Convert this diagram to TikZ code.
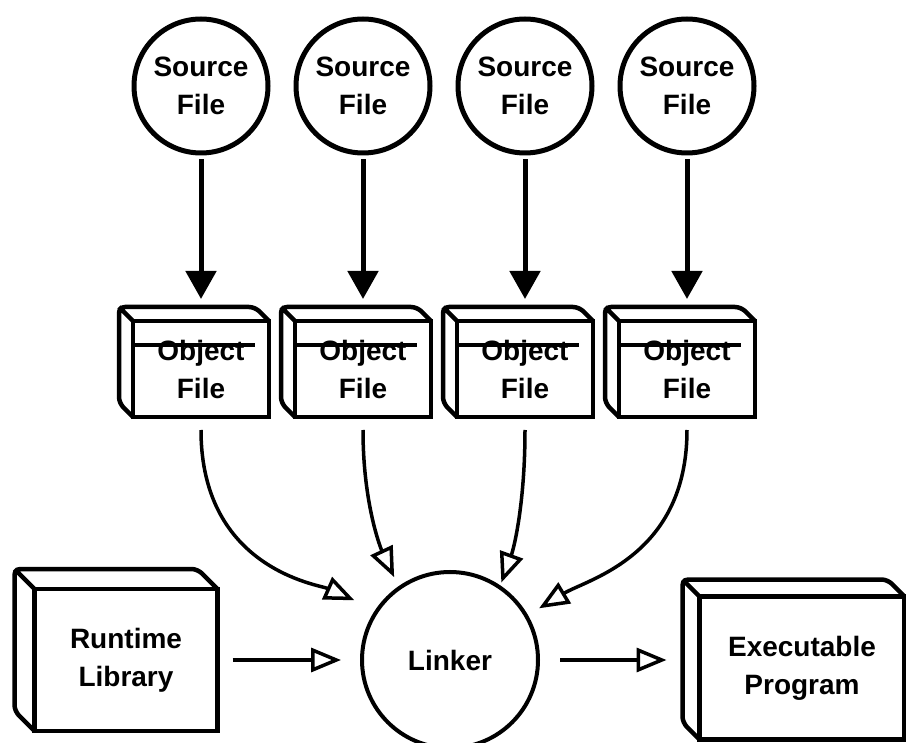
\documentclass[tikz,border=0pt]{standalone}
\usepackage{fontspec}
\setmainfont{Liberation Sans}
\usetikzlibrary{arrows.meta}

\begin{document}
\begin{tikzpicture}[x=1pt,y=1pt,node distance=162pt,
                    font=\bfseries\fontsize{28}{38}\selectfont,
                    src node/.style={circle,draw,line width=5pt,minimum size=134pt,inner sep=0pt,align=center},
                    file node/.style={rectangle,draw,line width=4.5pt,outer sep=0pt,align=center},
                    obj node/.style={file node,minimum width=136pt,minimum height=96pt},
                    link node/.style={circle,draw,line width=4pt,minimum size=176pt,inner sep=0pt},
                    feed/.style={line width=5pt,-{Triangle[length=28pt,width=30pt]},shorten <=4pt,shorten >=22pt},
                    link edge/.style={line width=3.5pt,-{Triangle[open,length=30pt,width=24pt]}}]
    \useasboundingbox (0,0) rectangle (906,-743);
    \node[src node] (src1) at (201,-86) {Source\\File};
    \node[src node] (src2) [right of=src1] {Source\\File};
    \node[src node] (src3) [right of=src2] {Source\\File};
    \node[src node] (src4) [right of=src3] {Source\\File};
    \node[obj node] (obj1) [below of=src1,node distance=283pt] {Object\\File};
    \node[obj node] (obj2) [below of=src2,node distance=283pt] {Object\\File};
    \node[obj node] (obj3) [below of=src3,node distance=283pt] {Object\\File};
    \node[obj node] (obj4) [below of=src4,node distance=283pt] {Object\\File};
    \node[link node] (linker) at (450,-660) {Linker};
    \node[file node,minimum width=183pt,minimum height=142pt] (lib) [left of=linker,node distance=324pt] {Runtime\\Library};
    \node[file node,minimum width=205pt,minimum height=143pt] (exe) [right of=linker,node distance=352pt,yshift=-8pt] {Executable\\Program};
    % back edges of the boxes
    \foreach \b/\d in {obj1/14,obj2/14,obj3/14,obj4/14,lib/20,exe/17}
        \draw[line width=4.5pt,rounded corners=6pt]
            (\b.north east) -- ([shift={(-\d,\d)}]\b.north east) -- ([shift={(-\d,\d)}]\b.north west)
            -- ([shift={(-\d,\d)}]\b.south west) -- (\b.south west)
            ([shift={(-\d,\d)}]\b.north west) -- (\b.north west);
    \foreach \b in {obj1,obj2,obj3,obj4}
        \draw[line width=4pt] ([shift={(-2,-24)}]\b.north west) -- ([shift={(-14,-24)}]\b.north east);
    \path[feed]
        (src1) edge (obj1)
        (src2) edge (obj2)
        (src3) edge (obj3)
        (src4) edge (obj4);
    \path[link edge,shorten <=13pt]
        (obj1.south) edge [out=-90,in=156,out looseness=1.5,in looseness=0.6,shorten >=23pt] (linker.146)
        (obj2.south) edge [out=-90,in=115,out looseness=1.3,in looseness=0.6,shorten >=10pt] (linker.125)
        (obj3.south) edge [out=-90,in=70,out looseness=1.3,in looseness=0.6,shorten >=3pt] (linker.56)
        (obj4.south) edge [out=-90,in=31,out looseness=1.4,in looseness=0.7,shorten >=13pt] (linker.30);
    \path[link edge]
        (lib) edge [shorten <=15pt,shorten >=19pt] (linker)
        (linker.east) edge [shorten <=20pt,shorten >=33pt] (linker.east -| exe.west);
\end{tikzpicture}
\end{document}
